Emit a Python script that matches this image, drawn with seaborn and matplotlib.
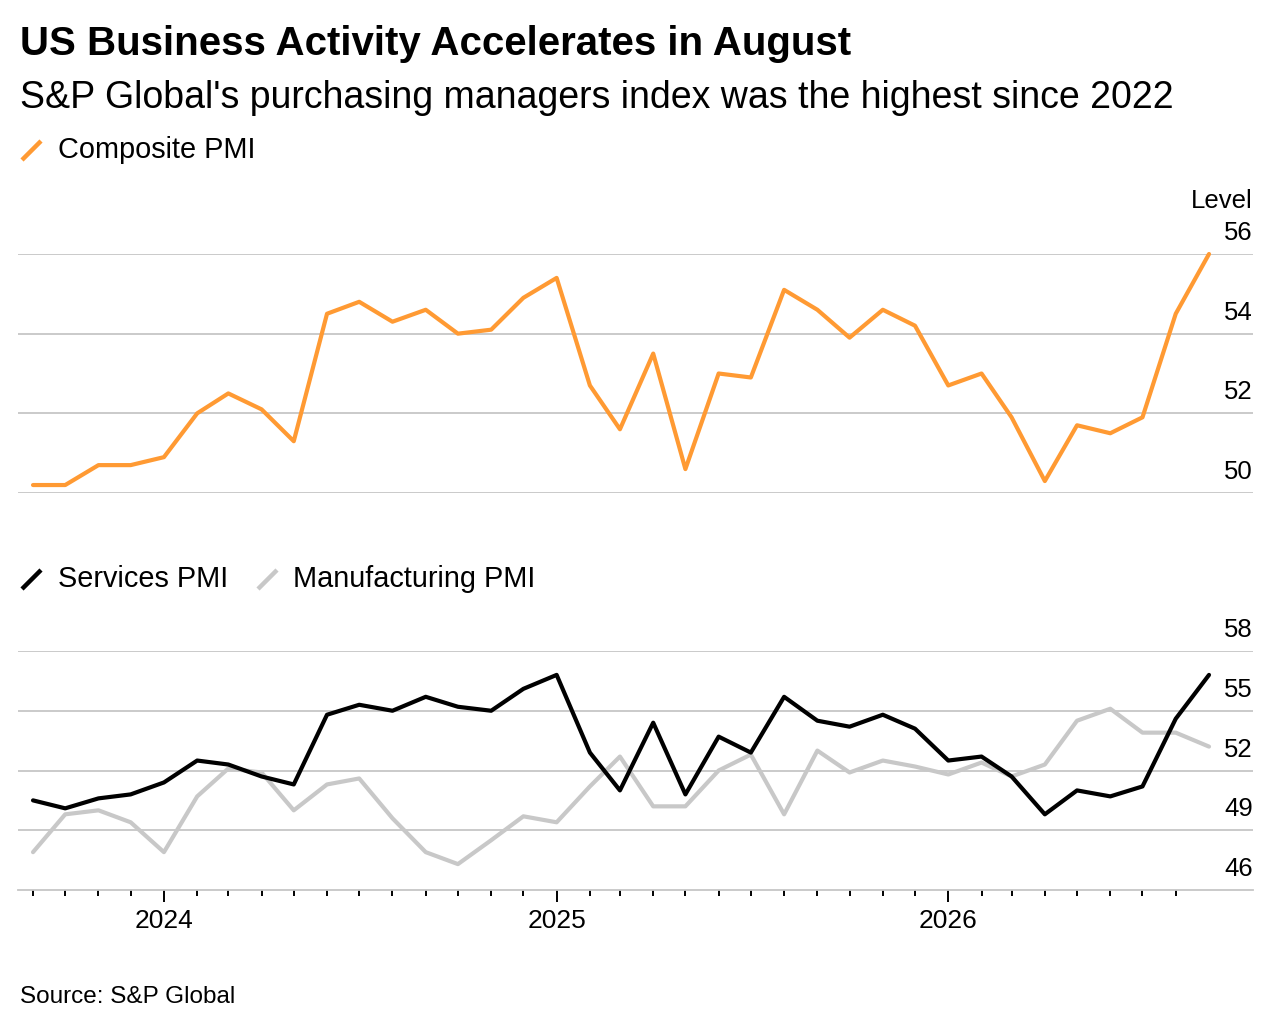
"""
US Business Activity chart
Composite PMI on top, services and manufacturing PMI below.
"""
import pandas as pd
import numpy as np
import matplotlib
matplotlib.use("Agg")
import matplotlib.pyplot as plt
import matplotlib.dates as mdates
import matplotlib.ticker as mticker
import matplotlib.transforms as mtransforms
from matplotlib.lines import Line2D
import seaborn as sns

# Data
months = pd.date_range("2023-09-01", periods=37, freq="MS")

composite = [50.2, 50.2, 50.7, 50.7, 50.9, 52.0, 52.5, 52.1, 51.3, 54.5,
             54.8, 54.3, 54.6, 54.0, 54.1, 54.9, 55.4, 52.7, 51.6, 53.5,
             50.6, 53.0, 52.9, 55.1, 54.6, 53.9, 54.6, 54.2, 52.7, 53.0,
             51.9, 50.3, 51.7, 51.5, 51.9, 54.5, 56.0]

services = [50.5, 50.1, 50.6, 50.8, 51.4, 52.5, 52.3, 51.7, 51.3, 54.8,
            55.3, 55.0, 55.7, 55.2, 55.0, 56.1, 56.8, 52.9, 51.0, 54.4,
            50.8, 53.7, 52.9, 55.7, 54.5, 54.2, 54.8, 54.1, 52.5, 52.7,
            51.7, 49.8, 51.0, 50.7, 51.2, 54.6, 56.8]

manufacturing = [47.9, 49.8, 50.0, 49.4, 47.9, 50.7, 52.1, 51.9, 50.0, 51.3,
                 51.6, 49.6, 47.9, 47.3, 48.5, 49.7, 49.4, 51.2, 52.7, 50.2,
                 50.2, 52.0, 52.8, 49.8, 53.0, 51.9, 52.5, 52.2, 51.8, 52.4,
                 51.7, 52.3, 54.5, 55.1, 53.9, 53.9, 53.2]

top_ticks = [50, 52, 54, 56]
bottom_ticks = [46, 49, 52, 55, 58]

TITLE = "US Business Activity Accelerates in August"
SUBTITLE = "S&P Global's purchasing managers index was the highest since 2022"
SOURCE = "Source: S&P Global"

ORANGE = "#ff9a33"
BLACK = "#000000"
GRAY = "#c8c8c8"
GRID = "#c6c6c6"

W, H = 1274, 1024


def fx(px):
    return px / W


def fy(px):
    return 1 - px / H


def right_labels(ax, ticks):
    """Tick values drawn above their gridlines, right aligned."""
    trans = mtransforms.blended_transform_factory(ax.transAxes, ax.transData)
    for v in ticks:
        ax.annotate(str(v), xy=(1.0, v), xycoords=trans,
                    xytext=(0, 10), textcoords="offset points",
                    ha="right", va="baseline", fontsize=18.5, color="black",
                    annotation_clip=False)


def main():
    sns.set_theme(style="white")
    plt.rcParams["font.family"] = ["Liberation Sans", "DejaVu Sans"]
    plt.rcParams["text.color"] = "black"
    plt.rcParams["xtick.labelcolor"] = "black"

    top_df = pd.DataFrame({"month": months, "value": composite})
    bottom_df = pd.concat([
        pd.DataFrame({"month": months, "value": manufacturing, "series": "Manufacturing PMI"}),
        pd.DataFrame({"month": months, "value": services, "series": "Services PMI"}),
    ])

    fig = plt.figure(figsize=(W / 100, H / 100), dpi=100)
    fig.patch.set_facecolor("white")

    left, right = fx(18), fx(1253)
    ax_top = fig.add_axes([left, fy(493), right - left, (493 - 254) / H])
    ax_bot = fig.add_axes([left, fy(890), right - left, (890 - 651) / H])

    xlim = (months[0] - pd.Timedelta(days=14), months[-1] + pd.Timedelta(days=41))

    # Top panel: composite
    sns.lineplot(data=top_df, x="month", y="value", ax=ax_top, color=ORANGE,
                 linewidth=3.0, clip_on=False)
    ax_top.set_ylim(50, 56)
    ax_top.set_yticks(top_ticks)
    ax_top.set_yticklabels([])
    ax_top.grid(axis="y", color=GRID, linewidth=1.3)
    ax_top.grid(axis="x", visible=False)
    ax_top.set_axisbelow(True)
    ax_top.set_xlim(*xlim)
    ax_top.set_xticks([])
    ax_top.tick_params(left=False, right=False, bottom=False)
    for s in ax_top.spines.values():
        s.set_visible(False)
    ax_top.set_xlabel("")
    ax_top.set_ylabel("")
    right_labels(ax_top, top_ticks)

    # Bottom panel: services and manufacturing
    sns.lineplot(data=bottom_df, x="month", y="value", hue="series",
                 hue_order=["Manufacturing PMI", "Services PMI"],
                 palette={"Manufacturing PMI": GRAY, "Services PMI": BLACK},
                 ax=ax_bot, linewidth=3.0, legend=False, clip_on=False)
    ax_bot.set_ylim(46, 58)
    ax_bot.set_yticks(bottom_ticks[1:])
    ax_bot.set_yticklabels([])
    ax_bot.grid(axis="y", color=GRID, linewidth=1.3)
    ax_bot.grid(axis="x", visible=False)
    ax_bot.set_axisbelow(True)
    ax_bot.set_xlim(*xlim)
    for name, s in ax_bot.spines.items():
        s.set_visible(name == "bottom")
    ax_bot.spines["bottom"].set_color(GRID)
    ax_bot.spines["bottom"].set_linewidth(1.3)

    # monthly ticks up to the month before the last point, years labelled
    tick_months = months[:-1]
    year_starts = [m for m in tick_months if m.month == 1]
    ax_bot.xaxis.set_major_locator(mticker.FixedLocator(mdates.date2num(year_starts)))
    ax_bot.xaxis.set_major_formatter(mdates.DateFormatter("%Y"))
    ax_bot.xaxis.set_minor_locator(mticker.FixedLocator(mdates.date2num(tick_months)))
    ax_bot.tick_params(axis="x", which="major", length=8.6, width=1.4,
                       color="black", pad=5, labelsize=19, bottom=True)
    ax_bot.tick_params(axis="x", which="minor", length=4.3, width=1.4,
                       color="black", bottom=True)
    ax_bot.tick_params(axis="y", left=False, right=False)
    ax_bot.set_xlabel("")
    ax_bot.set_ylabel("")
    right_labels(ax_bot, bottom_ticks)

    # Titles and notes
    fig.text(fx(20), fy(55), TITLE, fontsize=29, fontweight="bold",
             ha="left", va="baseline")
    fig.text(fx(20), fy(108), SUBTITLE, fontsize=27, ha="left", va="baseline")
    fig.text(fx(1253), fy(208), "Level", fontsize=18.5, ha="right", va="baseline")
    fig.text(fx(20), fy(1003), SOURCE, fontsize=17.5, ha="left", va="baseline")

    # Legends: short slanted strokes with labels
    legend_items = [
        (22, 160, 58, 158, ORANGE, "Composite PMI"),
        (22, 589, 58, 587, BLACK, "Services PMI"),
        (258, 589, 293, 587, GRAY, "Manufacturing PMI"),
    ]
    for gx, gy, tx, ty, color, label in legend_items:
        fig.add_artist(Line2D([fx(gx), fx(gx + 19)], [fy(gy), fy(gy - 19)],
                              transform=fig.transFigure, color=color,
                              linewidth=3.2, solid_capstyle="butt"))
        fig.text(fx(tx), fy(ty), label, fontsize=20.8, ha="left", va="baseline")

    fig.savefig("out.png", dpi=100, facecolor="white")
    plt.close(fig)


if __name__ == "__main__":
    main()
